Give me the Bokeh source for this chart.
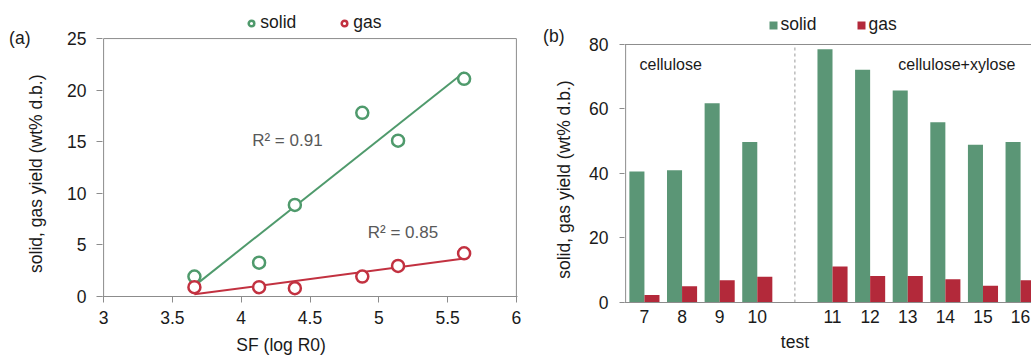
import numpy as np
from bokeh.plotting import figure
from bokeh.layouts import row, column
from bokeh.models import (Legend, LegendItem, Label, Span, LinearAxis,
                          FixedTicker, Range1d)
from bokeh.embed import file_html
from bokeh.resources import INLINE

# ---------------- data: panel (a) ----------------
sf = [3.66, 4.13, 4.39, 4.88, 5.14, 5.62]
solid_a = [1.93, 3.28, 8.88, 17.8, 15.1, 21.1]
gas_a = [0.9, 0.9, 0.8, 1.93, 2.96, 4.18]
r2_solid = "R² = 0.91"
r2_gas = "R² = 0.85"
x_ticks_a = [3, 3.5, 4, 4.5, 5, 5.5, 6]
y_ticks_a = [0, 5, 10, 15, 20, 25]

# ---------------- data: panel (b) ----------------
tests = [7, 8, 9, 10, 11, 12, 13, 14, 15, 16]
solid_b = [40.6, 41.0, 61.8, 49.8, 78.5, 72.2, 65.7, 55.9, 48.9, 49.8]
gas_b = [2.3, 5.0, 6.9, 8.0, 11.2, 8.2, 8.2, 7.2, 5.2, 6.9]
groups = ["cellulose", "cellulose+xylose"]
first_test_group2 = 11
y_ticks_b = [0, 20, 40, 60, 80]

YLABEL = "solid, gas yield (wt% d.b.)"
FONT = "Liberation Sans"
FS = "17.5px"
TXT = "#1a1a1a"
AX = "#8c8c8c"
GREEN = "#4f9a6c"
RED = "#c23140"
GREEN_BAR = "#5b9676"
RED_BAR = "#b3293a"


def style_axis(ax, tick_out=6, standoff=10):
    ax.axis_line_color = None
    ax.major_tick_line_color = AX
    ax.major_tick_out = tick_out
    ax.major_tick_in = 0
    ax.minor_tick_line_color = None
    ax.major_label_text_font = FONT
    ax.major_label_text_font_size = FS
    ax.major_label_text_color = TXT
    ax.major_label_standoff = standoff


def text_axis(text, at, standoff, orientation="horizontal"):
    # tick-less axis that only carries one text (axis title / panel letter)
    return LinearAxis(ticker=FixedTicker(ticks=[at]),
                      major_label_overrides={at: text},
                      axis_line_color=None, major_tick_line_color=None,
                      minor_tick_line_color=None, major_tick_out=0, major_tick_in=0,
                      major_label_standoff=standoff,
                      major_label_orientation=orientation,
                      major_label_text_font=FONT, major_label_text_font_size=FS,
                      major_label_text_color=TXT)


# ================= panel (a) =================
# frame reaches the top edge so that the legend can sit inside it
p1 = figure(width=540, height=358,
            x_range=Range1d(x_ticks_a[0] - 0.008, x_ticks_a[-1] + 0.008),
            y_range=Range1d(0, y_ticks_a[-1] + 3.69),
            output_backend="svg", toolbar_location=None, title_location=None,
            min_border_left=102, min_border_right=23, min_border_top=0,
            min_border_bottom=62)
p1.grid.visible = False
p1.outline_line_color = None

# plot box (left, top and right edges)
p1.line([x_ticks_a[0], x_ticks_a[0], x_ticks_a[-1], x_ticks_a[-1]],
        [y_ticks_a[0], y_ticks_a[-1], y_ticks_a[-1], y_ticks_a[0]],
        line_color=AX, line_width=1)

# linear trendlines (least squares fit on the data)
xs_fit = np.array([min(sf), max(sf)])
ks, bs = np.polyfit(sf, solid_a, 1)
kg, bg = np.polyfit(sf, gas_a, 1)
p1.line(xs_fit, ks * xs_fit + bs, line_color=GREEN, line_width=2)
p1.line(xs_fit, kg * xs_fit + bg, line_color=RED, line_width=2)

r_s = p1.scatter(sf, solid_a, marker="circle", size=12, fill_color="white",
                 line_color=GREEN, line_width=2.5)
r_g = p1.scatter(sf, gas_a, marker="circle", size=12, fill_color="white",
                 line_color=RED, line_width=2.5)

style_axis(p1.xaxis[0], tick_out=6, standoff=8)
p1.xaxis.axis_line_color = AX
style_axis(p1.yaxis[0], tick_out=6, standoff=10)
p1.xaxis.ticker = FixedTicker(ticks=x_ticks_a)
p1.xaxis.major_label_overrides = {t: f"{t:g}" for t in x_ticks_a}
p1.yaxis.ticker = FixedTicker(ticks=y_ticks_a)

p1.add_layout(text_axis(YLABEL, 11.9, 18, "vertical"), "left")
p1.add_layout(text_axis("(a)", 25.1, -7), "left")
p1.add_layout(text_axis("SF (log R0)", 4.29, 8), "below")

p1.add_layout(Label(x=4.08, y=15.12, text=r2_solid, text_align="left",
                    text_baseline="middle", text_font=FONT, text_font_size="17px",
                    text_color="#595959"))
p1.add_layout(Label(x=4.92, y=6.21, text=r2_gas, text_align="left",
                    text_baseline="middle", text_font=FONT, text_font_size="17px",
                    text_color="#595959"))

leg1 = Legend(items=[LegendItem(label="solid", renderers=[r_s]),
                     LegendItem(label="gas", renderers=[r_g])],
              orientation="horizontal", location=(142.3, 263),
              border_line_color=None, background_fill_alpha=0,
              padding=0, margin=0, spacing=41, label_standoff=2,
              glyph_width=14, glyph_height=14, label_height=20,
              label_text_font=FONT, label_text_font_size=FS,
              label_text_color=TXT)
p1.add_layout(leg1)

# ================= panel (b) =================
slots = [i + (1 if t >= first_test_group2 else 0) for i, t in enumerate(tests)]
gap_slot = tests.index(first_test_group2)
x0_b = -0.5

p2 = figure(width=491, height=358, x_range=Range1d(x0_b - 0.03, 10.29),
            y_range=Range1d(0, y_ticks_b[-1] + 13.64),
            output_backend="svg", toolbar_location=None, title_location=None,
            min_border_left=83, min_border_right=0, min_border_top=0,
            min_border_bottom=56)
p2.grid.visible = False
p2.outline_line_color = None

rb_s = p2.vbar(x=[s - 0.2 for s in slots], top=solid_b, width=0.4,
               fill_color=GREEN_BAR, line_color=None)
rb_g = p2.vbar(x=[s + 0.2 for s in slots], top=gas_b, width=0.4,
               fill_color=RED_BAR, line_color=None)

# plot box: left edge and top edge
p2.line([x0_b, x0_b], [y_ticks_b[0], y_ticks_b[-1]], line_color=AX, line_width=1)
p2.add_layout(Span(location=y_ticks_b[-1], dimension="width", line_color=AX,
                   line_width=1))
# dashed separator between the two groups
p2.line([gap_slot, gap_slot], [y_ticks_b[0], y_ticks_b[-1]], line_color="#9a9a9a",
        line_dash="3 3", line_width=1)

style_axis(p2.xaxis[0], tick_out=0, standoff=7)
p2.xaxis.axis_line_color = AX
p2.xaxis.major_tick_line_color = None
p2.xaxis.ticker = FixedTicker(ticks=slots)
p2.xaxis.major_label_overrides = {s: str(t) for s, t in zip(slots, tests)}
style_axis(p2.yaxis[0], tick_out=5, standoff=11)
p2.yaxis.ticker = FixedTicker(ticks=y_ticks_b)

p2.add_layout(text_axis(YLABEL, 38.1, 12, "vertical"), "left")
p2.add_layout(text_axis("(b)", 82.5, -13), "left")
p2.add_layout(text_axis("test", 4.0, 6), "below")

p2.add_layout(Label(x=-0.13, y=73.8, text=groups[0], text_align="left",
                    text_baseline="middle", text_font=FONT, text_font_size="16px",
                    text_color=TXT))
p2.add_layout(Label(x=6.75, y=73.8, text=groups[1], text_align="left",
                    text_baseline="middle", text_font=FONT, text_font_size="16px",
                    text_color=TXT))

leg2 = Legend(items=[LegendItem(label="solid", renderers=[rb_s]),
                     LegendItem(label="gas", renderers=[rb_g])],
              orientation="horizontal", location=(143.5, 267),
              border_line_color=None, background_fill_alpha=0,
              padding=0, margin=0, spacing=39, label_standoff=3,
              glyph_width=10, glyph_height=10, label_height=20,
              label_text_font=FONT, label_text_font_size=FS,
              label_text_color=TXT)
p2.add_layout(leg2)

layout = row(column(p1), column(p2))
open("out.html", "w").write(file_html(layout, INLINE))
